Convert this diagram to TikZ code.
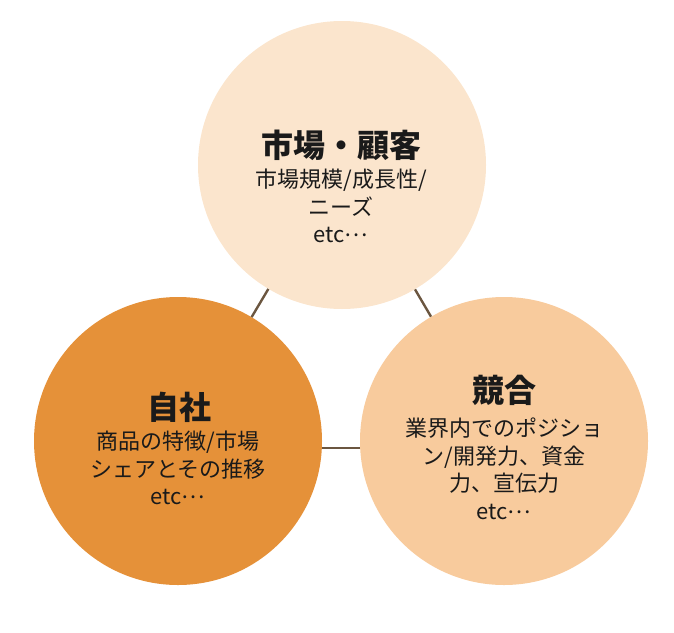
\documentclass[tikz,border=0pt]{standalone}
\usepackage{fontspec}
\setmainfont{Noto Sans CJK JP}
\definecolor{topc}{HTML}{FBE5CD}
\definecolor{selfc}{HTML}{E59139}
\definecolor{compc}{HTML}{F8CB9D}
\definecolor{linkc}{HTML}{6B5640}
\definecolor{txtc}{HTML}{1A1A1A}
\newcommand{\middots}{\raisebox{0.28em}{…}}
\tikzset{
  bubble/.style={circle, minimum size=288pt, inner sep=0pt, draw=none},
  link/.style={draw=linkc, line width=2.4pt},
  title/.style={inner sep=0pt, text=txtc, font=\fontsize{32}{36}\selectfont\bfseries},
  body/.style={inner sep=0pt, text=txtc, align=center, font=\fontsize{22}{27.5}\selectfont}
}
\begin{document}
\begin{tikzpicture}[x=1pt,y=-1pt]
\useasboundingbox (0,0) rectangle (674,632);
\node[bubble, fill=topc] (market) at (342,165) {};
\node[bubble, fill=selfc] (self) at (178,441) {};
\node[bubble, fill=compc] (comp) at (504,441) {};
\draw[link] (market) -- (self);
\draw[link] (market) -- (comp);
\draw[link] ([yshift=-7pt]self.east) -- ([yshift=-7pt]comp.west);
\node[title] (markett) at (341,145) {市場・顧客};
\node[body] (marketb) at (341,206) {市場規模/成長性/\\ニーズ\\etc\middots};
\node[title] (selft) at (179,407) {自社};
\node[body] (selfb) at (178,468) {商品の特徴/市場\\シェアとその推移\\etc\middots};
\node[title] (compt) at (504,390) {競合};
\node[body] (compb) at (504,469) {業界内でのポジショ\\ン/開発力、資金\\力、宣伝力\\etc\middots};
\end{tikzpicture}
\end{document}
